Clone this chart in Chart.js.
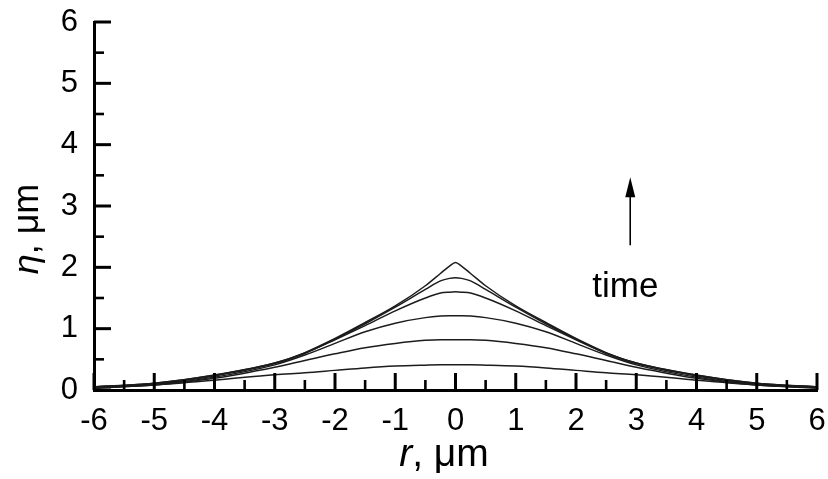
<!DOCTYPE html>
<html>
<head>
<meta charset="utf-8">
<title>Profile growth</title>
<script src="https://cdn.jsdelivr.net/npm/chart.js@4.4.1/dist/chart.umd.min.js"></script>
<style>
    html, body { margin: 0; padding: 0; background: #fff; }
    #wrap { width: 828px; height: 479px; position: relative; }
</style>
</head>
<body>
<div id="wrap"><canvas id="profileChart"></canvas></div>
<script>
// r positions (um) shared by every profile
const rValues = [-6, -5, -4, -3, -2.5, -2, -1.5, -1, -0.5, -0.25, -0.1, 0,
                 0.1, 0.25, 0.5, 1, 1.5, 2, 2.5, 3, 4, 5, 6];

// surface height eta (um), earliest to latest
const eta1 = [0.03, 0.08, 0.16, 0.25, 0.28, 0.32, 0.36, 0.39, 0.405, 0.41, 0.41, 0.41,
              0.41, 0.41, 0.405, 0.39, 0.36, 0.32, 0.28, 0.25, 0.16, 0.08, 0.03];
const eta2 = [0.04, 0.08, 0.19, 0.37, 0.48, 0.59, 0.69, 0.76, 0.81, 0.82, 0.82, 0.82,
              0.82, 0.82, 0.81, 0.76, 0.69, 0.59, 0.48, 0.37, 0.19, 0.08, 0.04];
const eta3 = [0.04, 0.09, 0.21, 0.41, 0.57, 0.76, 0.95, 1.09, 1.18, 1.205, 1.21, 1.21,
              1.21, 1.205, 1.18, 1.09, 0.95, 0.76, 0.57, 0.41, 0.21, 0.09, 0.04];
const eta4 = [0.05, 0.10, 0.23, 0.43, 0.60, 0.82, 1.05, 1.29, 1.50, 1.58, 1.595, 1.60,
              1.595, 1.58, 1.50, 1.29, 1.05, 0.82, 0.60, 0.43, 0.23, 0.10, 0.05];
const eta5 = [0.05, 0.11, 0.24, 0.44, 0.60, 0.83, 1.08, 1.35, 1.64, 1.78, 1.82, 1.83,
              1.82, 1.78, 1.64, 1.35, 1.08, 0.83, 0.60, 0.44, 0.24, 0.11, 0.05];
const eta6 = [0.05, 0.11, 0.245, 0.44, 0.61, 0.84, 1.10, 1.37, 1.70, 1.90, 2.02, 2.08,
              2.02, 1.90, 1.70, 1.37, 1.10, 0.84, 0.61, 0.44, 0.245, 0.11, 0.05];

const xTicks = [-6, -5, -4, -3, -2, -1, 0, 1, 2, 3, 4, 5, 6];
const yTicks = [0, 1, 2, 3, 4, 5, 6];

// arrow and label marking the direction of time
const arrowX = 2.9, arrowFrom = 2.36, arrowTo = 3.47;
const timeLabel = { x: 2.82, y: 1.52, text: 'time' };

const FONT = '"Liberation Sans", Arial, Helvetica, sans-serif';
Chart.defaults.font.family = FONT;
Chart.defaults.color = '#000';

function toPoints(ys) {
    return rValues.map(function(r, i) { return { x: r, y: ys[i] }; });
}

// keep the plot box where the layout padding puts it
function noLabelPadding(scale) {
    scale.paddingLeft = 0;
    scale.paddingRight = 0;
    scale.paddingTop = 0;
    scale.paddingBottom = 0;
}

// tick marks drawn inside the plot, plus axis titles and the time arrow
const decorPlugin = {
    id: 'decor',
    afterDraw: function(chart) {
        const ctx = chart.ctx;
        const xs = chart.scales.x, ys = chart.scales.y;
        const area = chart.chartArea;
        ctx.save();
        ctx.strokeStyle = '#000';
        ctx.lineCap = 'butt';

        for (let v = xs.min; v <= xs.max + 1e-9; v += 0.5) {
            const major = Math.abs(v - Math.round(v)) < 1e-9;
            const px = xs.getPixelForValue(v);
            ctx.lineWidth = major ? 3 : 2.6;
            ctx.beginPath();
            ctx.moveTo(px, area.bottom);
            ctx.lineTo(px, area.bottom - (major ? 17 : 10));
            ctx.stroke();
        }
        for (let v = ys.min; v <= ys.max + 1e-9; v += 0.5) {
            const major = Math.abs(v - Math.round(v)) < 1e-9;
            const py = ys.getPixelForValue(v);
            ctx.lineWidth = major ? 3 : 2.6;
            ctx.beginPath();
            ctx.moveTo(area.left, py);
            ctx.lineTo(area.left + (major ? 17 : 10), py);
            ctx.stroke();
        }

        // x title: italic r, upright unit
        ctx.fillStyle = '#000';
        ctx.textBaseline = 'alphabetic';
        ctx.textAlign = 'left';
        let italic = 'italic 39px ' + FONT, upright = '39px ' + FONT;
        ctx.font = italic;
        const wR = ctx.measureText('r').width;
        ctx.font = upright;
        let wU = ctx.measureText(', \u03bcm').width;
        let x0 = 444 - (wR + wU) / 2;
        ctx.font = italic;
        ctx.fillText('r', x0, 466);
        ctx.font = upright;
        ctx.fillText(', \u03bcm', x0 + wR, 466);

        // y title, rotated
        italic = 'italic 36px ' + FONT;
        upright = '36px ' + FONT;
        ctx.save();
        ctx.translate(38, 229);
        ctx.rotate(-Math.PI / 2);
        ctx.font = italic;
        const wE = ctx.measureText('\u03b7').width;
        ctx.font = upright;
        wU = ctx.measureText(', \u03bcm').width;
        x0 = -(wE + wU) / 2;
        ctx.font = italic;
        ctx.fillText('\u03b7', x0, 0);
        ctx.font = upright;
        ctx.fillText(', \u03bcm', x0 + wE, 0);
        ctx.restore();

        // time arrow
        const ax = xs.getPixelForValue(arrowX);
        const ay0 = ys.getPixelForValue(arrowFrom);
        const ay1 = ys.getPixelForValue(arrowTo);
        ctx.lineWidth = 1.6;
        ctx.beginPath();
        ctx.moveTo(ax, ay0);
        ctx.lineTo(ax, ay1 + 18);
        ctx.stroke();
        ctx.beginPath();
        ctx.moveTo(ax, ay1);
        ctx.lineTo(ax - 5, ay1 + 20);
        ctx.lineTo(ax + 5, ay1 + 20);
        ctx.closePath();
        ctx.fill();

        ctx.font = '35px ' + FONT;
        ctx.textAlign = 'center';
        ctx.fillText(timeLabel.text, xs.getPixelForValue(timeLabel.x), ys.getPixelForValue(timeLabel.y));
        ctx.restore();
    }
};

const lineStyle = {
    borderColor: '#1c1c1c',
    borderWidth: 1.5,
    pointRadius: 0,
    fill: false,
    cubicInterpolationMode: 'monotone'
};

const profileChart = new Chart(document.getElementById('profileChart'), {
    type: 'line',
    data: {
        datasets: [eta1, eta2, eta3, eta4, eta5, eta6].map(function(ys, i) {
            return Object.assign({ label: 't' + (i + 1), data: toPoints(ys) }, lineStyle);
        })
    },
    options: {
        responsive: true,
        maintainAspectRatio: false,
        animation: false,
        layout: { padding: { top: 22, right: 11, left: 0, bottom: 0 } },
        plugins: {
            legend: { display: false },
            tooltip: { enabled: false }
        },
        scales: {
            x: {
                type: 'linear',
                min: -6,
                max: 6,
                afterFit: function(scale) { scale.height = 89; noLabelPadding(scale); },
                afterBuildTicks: function(scale) {
                    scale.ticks = xTicks.map(function(v) { return { value: v }; });
                },
                grid: { display: false, drawTicks: false },
                border: { display: true, color: '#000', width: 3 },
                ticks: { font: { size: 31 }, padding: 13, maxRotation: 0, autoSkip: false }
            },
            y: {
                type: 'linear',
                min: 0,
                max: 6,
                afterFit: function(scale) { scale.width = 94; noLabelPadding(scale); },
                afterBuildTicks: function(scale) {
                    scale.ticks = yTicks.map(function(v) { return { value: v }; });
                },
                grid: { display: false, drawTicks: false },
                border: { display: true, color: '#000', width: 3 },
                ticks: { font: { size: 31 }, padding: 16 }
            }
        }
    },
    plugins: [decorPlugin]
});
</script>
</body>
</html>
